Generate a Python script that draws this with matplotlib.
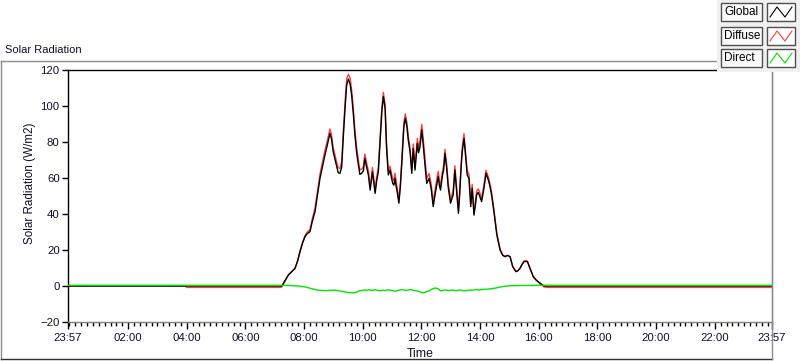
import numpy as np
import matplotlib
matplotlib.use('Agg')
import matplotlib.pyplot as plt
from matplotlib.patches import Rectangle
from matplotlib.lines import Line2D

plt.rcParams['font.family'] = ['Liberation Sans', 'DejaVu Sans']

# hours after midnight (axis runs 23:57 -> 23:57)
hours = [-0.05, 3.95, 4.00, 7.20, 7.24, 7.35, 7.46, 7.58, 7.69, 7.78, 7.86, 7.95, 8.03, 8.10, 8.20, 8.28,
         8.37, 8.45, 8.54, 8.62, 8.71, 8.80, 8.88, 8.93, 8.99, 9.10, 9.16, 9.22, 9.28, 9.34, 9.40, 9.45,
         9.51, 9.57, 9.62, 9.68, 9.73, 9.79, 9.85, 9.90, 9.96, 10.02, 10.07, 10.13, 10.19, 10.25, 10.29,
         10.33, 10.38, 10.42, 10.47, 10.53, 10.59, 10.65, 10.70, 10.76, 10.81, 10.87, 10.93, 10.98, 11.02,
         11.06, 11.10, 11.14, 11.18, 11.23, 11.28, 11.33, 11.40, 11.45, 11.50, 11.55, 11.61, 11.67, 11.72,
         11.78, 11.86, 11.90, 11.95, 12.01, 12.06, 12.12, 12.18, 12.26, 12.33, 12.40, 12.48, 12.57, 12.61,
         12.65, 12.71, 12.76, 12.80, 12.86, 12.91, 12.99, 13.08, 13.14, 13.20, 13.26, 13.30, 13.35, 13.39,
         13.45, 13.51, 13.56, 13.62, 13.68, 13.73, 13.79, 13.84, 13.88, 13.93, 13.97, 14.05, 14.13, 14.20,
         14.28, 14.34, 14.39, 14.47, 14.57, 14.68, 14.77, 14.85, 14.93, 15.02, 15.11, 15.22, 15.29, 15.36,
         15.43, 15.50, 15.61, 15.70, 15.81, 15.90, 15.98, 16.10, 16.18, 16.30, 23.95]

global_rad = [0, 0, 0, 0, 0, 3, 6.1, 8, 9.8, 14, 19.1, 24, 27.4, 29, 30.2, 36,
              41.3, 50, 59.8, 66, 72.8, 79, 84.8, 82, 74.7, 67, 63, 62.6, 66, 84, 100, 111.7,
              115, 112, 106, 95, 84, 74, 67.2, 62, 62.6, 64, 71, 66, 61.7, 53.3, 58,
              63.5, 57, 51.5, 58, 63.5, 80.2, 97, 105.2, 98.7, 76.5, 61.7, 64.4, 60, 57,
              56, 59.8, 55, 51.5, 46, 55, 68.2, 88.5, 93.2, 89, 81.1, 74.7, 62.6, 76.5,
              64.4, 79.3, 74, 77.4, 86.7, 78.3, 67.2, 57, 59.8, 54.3, 44.1, 52.4, 60.8, 56,
              53.3, 60.8, 65, 73.7, 65.4, 55.2, 46, 50.6, 64.4, 52.4, 40.4, 50, 65.4, 74.7,
              82, 71, 61.7, 59.8, 44.1, 54.3, 39.4, 45, 50.6, 52, 50.6, 46.9, 54.3, 62.6,
              58.9, 55, 50.6, 41.3, 28.3, 20, 17, 16.3, 17, 16.3, 10.8, 8, 8.5, 9.8,
              12, 13.6, 13.6, 9.8, 5.2, 3.5, 2.4, 0.9, 0, 0, 0]

diffuse_rad = [0, 0, -0.8, -0.8, -0.4, 2.7, 6.0, 8.0, 9.8, 14.2, 19.4, 24.5, 28.0, 29.8, 31.4, 37.6,
               43.2, 52.3, 62.2, 68.5, 75.4, 81.5, 87.2, 84.3, 77.0, 69.4, 65.6, 65.4, 69.0, 87.2, 103.4, 115.0,
               117.6, 115.5, 108.8, 98.0, 87.0, 77.0, 69.8, 64.5, 64.9, 66.3, 73.3, 68.4, 64.0, 55.5, 60.2,
               65.8, 59.3, 53.7, 60.2, 65.8, 82.7, 99.5, 107.6, 101.2, 78.8, 63.9, 66.6, 62.4, 59.4,
               58.5, 62.6, 57.6, 53.9, 48.2, 57.1, 70.3, 90.8, 95.6, 91.3, 83.3, 76.7, 64.7, 78.9,
               66.9, 82.0, 77.0, 80.4, 89.8, 81.9, 70.5, 59.8, 62.4, 56.7, 46.4, 55.1, 63.7, 58.8,
               55.9, 63.3, 67.2, 75.9, 67.6, 57.6, 48.3, 52.7, 66.8, 54.9, 42.6, 52.1, 67.6, 77.1,
               84.6, 73.5, 64.0, 62.0, 46.2, 56.5, 41.5, 47.0, 52.5, 54.0, 52.7, 48.8, 56.1, 64.3,
               60.5, 56.5, 52.0, 42.5, 29.2, 20.5, 17.3, 16.4, 17.0, 16.3, 10.8, 8.0, 8.6, 9.9,
               12.2, 14.0, 13.9, 9.8, 5.2, 3.4, 2.2, 0.5, -0.5, -0.8, -0.8]

direct_rad = [0.4, 0.4, 0.4, 0.4, 0.4, 0.3, 0.3, 0.2, 0.1, 0.0, -0.1, -0.3, -0.5, -0.8, -1.2, -1.6,
              -2.0, -2.3, -2.4, -2.5, -2.6, -2.5, -2.4, -2.3, -2.3, -2.4, -2.6, -2.8, -3.0, -3.2, -3.4, -3.5,
              -3.6, -3.7, -3.8, -3.8, -3.7, -3.4, -3.0, -2.7, -2.5, -2.3, -2.2, -2.4, -2.2, -2.1, -2.3,
              -2.4, -2.2, -2.0, -2.3, -2.5, -2.6, -2.5, -2.4, -2.5, -2.3, -2.1, -2.3, -2.5, -2.6,
              -2.7, -3.0, -2.8, -2.5, -2.3, -2.2, -2.0, -2.2, -2.3, -2.4, -2.2, -2.0, -2.1, -2.4,
              -2.5, -2.8, -3.0, -3.3, -3.6, -3.8, -3.5, -3.0, -2.7, -2.0, -1.4, -1.1, -1.6, -2.2,
              -2.7, -2.5, -2.3, -2.2, -2.3, -2.5, -2.4, -2.2, -2.5, -2.6, -2.3, -2.2, -2.3, -2.5,
              -2.7, -2.6, -2.4, -2.3, -2.2, -2.3, -2.2, -2.1, -2.0, -2.1, -2.2, -2.0, -1.9, -1.8,
              -1.7, -1.6, -1.5, -1.3, -1.0, -0.6, -0.3, -0.1, 0.0, 0.1, 0.2, 0.2, 0.2, 0.3,
              0.3, 0.3, 0.3, 0.3, 0.3, 0.4, 0.4, 0.4, 0.4, 0.4, 0.4]

tick_pos = [-0.05, 2, 4, 6, 8, 10, 12, 14, 16, 18, 20, 22, 23.95]
tick_labels = ['23:57', '02:00', '04:00', '06:00', '08:00', '10:00', '12:00',
               '14:00', '16:00', '18:00', '20:00', '22:00', '23:57']
series_names = ['Global', 'Diffuse', 'Direct']
series_colors = ['#000000', '#ff3c3c', '#00e600']

W, H = 800, 361
fig = plt.figure(figsize=(W / 100, H / 100), dpi=100)


def fx(x):
    return x / W


def fy(y):
    return 1 - y / H


ax = fig.add_axes([fx(68), fy(322), fx(772) - fx(68), fy(70) - fy(322)])
ax.plot(hours, diffuse_rad, color=series_colors[1], lw=1, zorder=2)
ax.plot(hours, global_rad, color=series_colors[0], lw=1, zorder=3)
ax.plot(hours, direct_rad, color=series_colors[2], lw=1, zorder=4)

ax.set_xlim(-0.05, 23.95)
ax.set_ylim(-20, 120)
ax.set_yticks(range(-20, 121, 20))
ax.set_xticks(tick_pos)
ax.set_xticklabels(tick_labels)
ax.set_xticks(np.arange(0, 23.9, 0.2), minor=True)
ax.tick_params(axis='both', which='major', labelsize=8.2, colors='#000000', labelcolor='#101028', width=1)
ax.tick_params(axis='y', length=4, pad=2)
ax.tick_params(axis='x', which='major', length=5, pad=3)
ax.tick_params(axis='x', which='minor', length=3, width=1, color='#000000')

ax.spines['left'].set_color('#000000')
ax.spines['top'].set_color('#000000')
ax.spines['bottom'].set_color('#808080')
ax.spines['right'].set_color('#a0a0a0')
for s in ax.spines.values():
    s.set_linewidth(1)

ax.set_ylabel('Solar Radiation (W/m2)', fontsize=8.4, color='#101028')
ax.yaxis.set_label_coords(-0.046, 0.55)
ax.set_xlabel('Time', fontsize=8.8, color='#101028')
ax.xaxis.set_label_coords(0.5, -0.105)

# chart title
fig.text(fx(5), fy(50), 'Solar Radiation', fontsize=8, va='center', ha='left', color='#101028')

# outer frame
fig.add_artist(Line2D([fx(0.5), fx(720)], [fy(61), fy(61)], color='#8c8c8c', lw=1))
fig.add_artist(Line2D([fx(0.5), fx(0.5)], [fy(61), fy(359)], color='#8c8c8c', lw=1))
fig.add_artist(Line2D([fx(0.5), fx(772)], [fy(359), fy(359)], color='#303030', lw=1))
fig.add_artist(Line2D([fx(772), fx(772)], [fy(61), fy(359)], color='#8c8c8c', lw=1))

# legend panel
fig.add_artist(Rectangle((fx(717), fy(72)), fx(800) - fx(717), fy(0) - fy(72),
                         facecolor='#f0f0f0', edgecolor='none', zorder=5))
rows = [(3, 21), (27, 45), (49, 67)]
for (top, bot), name, col in zip(rows, series_names, series_colors):
    fig.add_artist(Rectangle((fx(721), fy(bot)), fx(762) - fx(721), fy(top) - fy(bot),
                             facecolor='#fafafa', edgecolor='#505050', lw=1, zorder=6))
    fig.text(fx(724), fy((top + bot) / 2), name, fontsize=8.5, va='center', ha='left',
             color='#000000', zorder=7)
    fig.add_artist(Rectangle((fx(767), fy(bot)), fx(795) - fx(767), fy(top) - fy(bot),
                             facecolor='#ffffff', edgecolor='#505050', lw=1, zorder=6))
    zx = [770, 777, 785, 792]
    zy = [bot - 4, top + 4, bot - 4, top + 4]
    fig.add_artist(Line2D([fx(v) for v in zx], [fy(v) for v in zy], color=col, lw=0.8, zorder=7))

fig.savefig('out.png', dpi=100)
